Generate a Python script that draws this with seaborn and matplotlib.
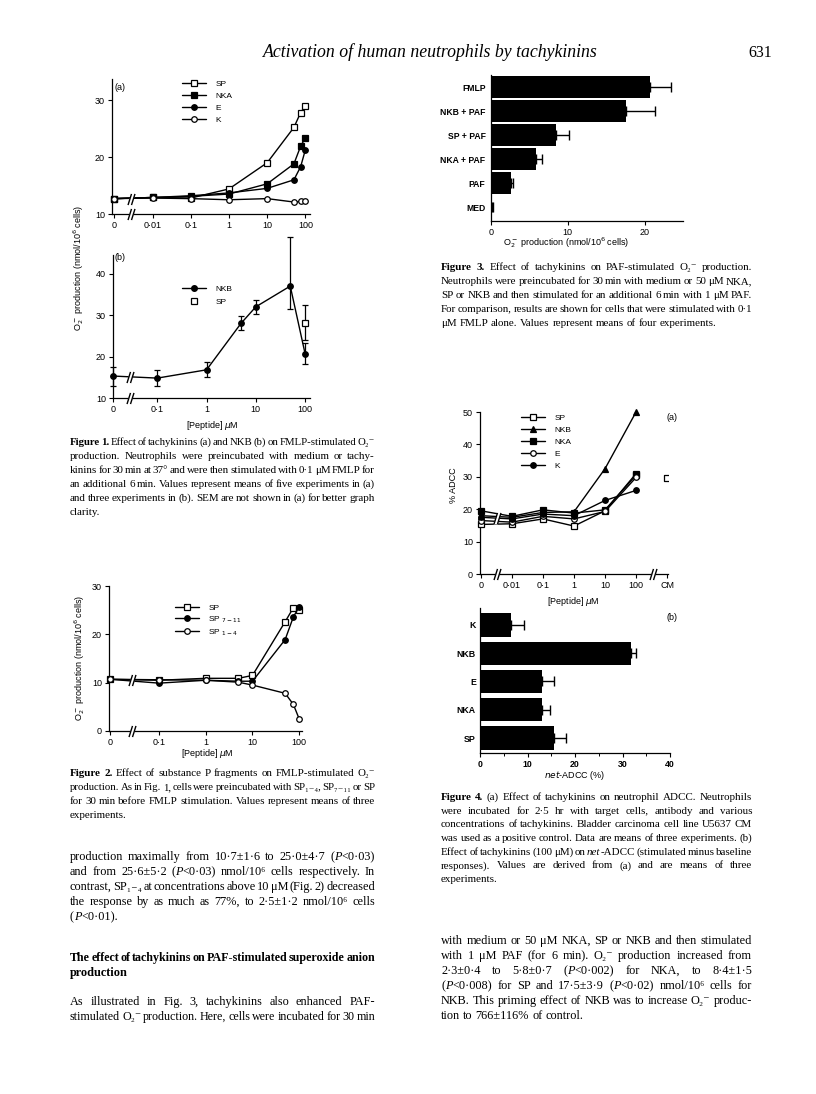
import re
import numpy as np
import matplotlib
matplotlib.use("Agg")
import matplotlib.pyplot as plt
from matplotlib.path import Path
from matplotlib.lines import Line2D
import seaborn as sns

# ---------------- data ----------------
# Figure 1a: O2- production, concentration in uM (0 = medium)
f1a_conc = [0, 0.01, 0.1, 1, 10, 50, 75, 100]
f1a_sp = [12.7, 12.9, 12.8, 14.4, 19.0, 25.2, 27.8, 29.0]
f1a_nka = [12.7, 12.9, 13.1, 13.5, 15.3, 18.8, 21.9, 23.4]
f1a_e = [12.7, 12.9, 13.2, 13.7, 14.5, 16.0, 18.3, 21.3]
f1a_k = [12.7, 12.8, 12.7, 12.5, 12.7, 12.1, 12.2, 12.2]

# Figure 1b: NKB with SEM (asymmetric as drawn), SP point at 100
f1b_conc = [0, 0.1, 1, 5, 10, 50, 100]
f1b_nkb = [15.3, 14.8, 16.8, 28.0, 32.0, 37.0, 20.7]
f1b_lo = [2.3, 2.0, 1.8, 1.6, 1.8, 5.5, 2.5]
f1b_hi = [2.2, 1.9, 1.8, 1.8, 1.6, 11.8, 2.5]
f1b_sp_conc = 100
f1b_sp = 28.0
f1b_sp_lo = 4.0
f1b_sp_hi = 4.5

# Figure 2: SP fragments
f2_conc = [0, 0.1, 1, 5, 10, 50, 75, 100]
f2_sp = [10.7, 10.5, 10.9, 10.9, 11.5, 22.6, 25.5, 25.0]
f2_sp711 = [10.7, 9.9, 10.5, 10.3, 10.3, 18.9, 23.6, 25.7]
f2_sp14 = [10.7, 10.6, 10.5, 10.1, 9.5, 7.8, 5.5, 2.5]

# Figure 3: PAF-stimulated O2- production
f3_cats = ["FMLP", "NKB + PAF", "SP + PAF", "NKA + PAF", "PAF", "MED"]
f3_vals = [20.7, 17.6, 8.5, 5.8, 2.6, 0.1]
f3_err = [2.8, 3.8, 1.6, 0.8, 0.3, 0.2]

# Figure 4a: % ADCC
f4_ticks = ["0", "0·01", "0·1", "1", "10", "100", "CM"]
f4_conc = [0, 0.01, 0.1, 1, 10, 100]
f4_sp = [15.3, 15.5, 17.0, 14.8, 19.5, 31.0]
f4_nkb = [18.0, 17.5, 19.0, 19.2, 32.5, 50.0]
f4_nka = [19.5, 17.8, 19.8, 18.8, 19.8, 30.5]
f4_e = [16.5, 16.0, 17.8, 17.0, 19.3, 29.8]
f4_k = [17.5, 17.0, 18.5, 18.0, 22.7, 25.8]
f4_cm = 29.5

# Figure 4b: net-ADCC
f4b_cats = ["K", "NKB", "E", "NKA", "SP"]
f4b_vals = [6.5, 31.7, 13.0, 13.0, 15.5]
f4b_err = [2.8, 1.1, 2.5, 1.7, 2.5]

# ---------------- setup ----------------
sns.set_theme(style="ticks")
plt.rcParams["font.family"] = ["Liberation Sans", "DejaVu Sans"]
plt.rcParams.update({
    "axes.linewidth": 0.9,
    "xtick.major.size": 3, "ytick.major.size": 3,
    "xtick.major.width": 0.8, "ytick.major.width": 0.8,
    "xtick.minor.size": 2, "xtick.minor.width": 0.7,
    "xtick.labelsize": 6.5, "ytick.labelsize": 6.5,
    "xtick.major.pad": 2, "ytick.major.pad": 2,
    "xtick.color": "black", "ytick.color": "black",
    "axes.edgecolor": "black", "text.color": "black",
    "axes.facecolor": "white", "figure.facecolor": "white",
})
SERIF = ["Liberation Serif", "DejaVu Serif"]

W, H = 816, 1094
fig = plt.figure(figsize=(W / 100, H / 100), dpi=100)
renderer = fig.canvas.get_renderer()


def fx(px):
    return px / W


def fy(py):
    return 1 - py / H


def add_ax(l, t, r, b):
    ax = fig.add_axes([l / W, 1 - b / H, (r - l) / W, (b - t) / H])
    sns.despine(ax=ax)
    return ax


def pos(c, zero):
    return [zero if v == 0 else np.log10(v) for v in c]


brk_lines = Path([(-1, -1.6), (0, 1.6), (0, -1.6), (1, 1.6)],
                 [Path.MOVETO, Path.LINETO, Path.MOVETO, Path.LINETO])
brk_fill = Path([(-1, -1.6), (0, -1.6), (1, 1.6), (0, 1.6), (-1, -1.6)],
                [Path.MOVETO, Path.LINETO, Path.LINETO, Path.LINETO, Path.CLOSEPOLY])


def brk(ax, x, y, on_axis=False):
    tr = ax.get_xaxis_transform() if on_axis else ax.transData
    ax.plot([x], [y], ls="none", marker=brk_fill, ms=8, mfc="white", mec="white",
            mew=0.5, transform=tr, clip_on=False, zorder=6)
    ax.plot([x], [y], ls="none", marker=brk_lines, ms=8, mec="black", mfc="none",
            mew=1.0, transform=tr, clip_on=False, zorder=7)


def series(ax, x, y, marker, filled, label=None):
    sns.lineplot(x=x, y=y, ax=ax, color="black", lw=1, marker=marker, ms=4,
                 mfc="black" if filled else "white", mec="black", mew=0.9,
                 label=label, clip_on=False, zorder=3)


def leg(ax, x, y, spacing, handles=None, labels=None):
    kw = dict(loc="upper left", bbox_to_anchor=(fx(x), fy(y)),
              bbox_transform=fig.transFigure, frameon=False, fontsize=6,
              handlelength=2.9, handletextpad=1.1, labelspacing=spacing,
              borderpad=0, borderaxespad=0)
    if handles is not None:
        ax.legend(handles, labels, **kw)
    else:
        ax.legend(**kw)


# ---------------- Figure 1a ----------------
ax = add_ax(112, 79, 310, 214)
z = -3.0
x = pos(f1a_conc, z)
series(ax, x, f1a_sp, "s", False, "SP")
series(ax, x, f1a_nka, "s", True, "NKA")
series(ax, x, f1a_e, "o", True, "E")
series(ax, x, f1a_k, "o", False, "K")
ax.set_xlim(-3.06, 2.12)
ax.set_ylim(10, 33.7)
ax.set_xticks([-3, -2, -1, 0, 1, 2], ["0", "0·01", "0·1", "1", "10", "100"])
ax.set_yticks([10, 20, 30])
ax.set_xlabel("")
ax.set_ylabel("")
brk(ax, -2.55, 12.7)
brk(ax, -2.55, 0, on_axis=True)
leg(ax, 182, 80, 0.5)
fig.text(fx(120), fy(88), "(a)", fontsize=6.5, ha="center", va="center")

# ---------------- Figure 1b ----------------
ax = add_ax(113, 255, 310, 398)
z = -1.9
x = pos(f1b_conc, z)
series(ax, x, f1b_nkb, "o", True)
ax.errorbar(x, f1b_nkb, yerr=[f1b_lo, f1b_hi], fmt="none", ecolor="black",
            elinewidth=0.9, capsize=2, capthick=0.9, clip_on=False, zorder=2)
ax.errorbar([np.log10(f1b_sp_conc)], [f1b_sp], yerr=[[f1b_sp_lo], [f1b_sp_hi]],
            fmt="s", ms=4, mfc="white", mec="black", mew=0.9, ecolor="black",
            elinewidth=0.9, capsize=2, capthick=0.9, clip_on=False, zorder=4)
ax.set_xlim(-1.9, 2.1)
ax.set_ylim(10, 44.5)
ax.set_xticks([-1.9, -1, 0, 1, 2], ["0", "0·1", "1", "10", "100"])
ax.set_yticks([10, 20, 30, 40])
ax.set_xlabel("")
ax.set_ylabel("")
brk(ax, -1.55, 15.1)
brk(ax, -1.55, 0, on_axis=True)
h1 = [Line2D([], [], color="black", lw=1, marker="o", ms=4, mfc="black", mec="black"),
      Line2D([], [], ls="none", marker="s", ms=4, mfc="white", mec="black", mew=0.9)]
leg(ax, 182, 285, 0.6, h1, ["NKB", "SP"])
fig.text(fx(120), fy(257), "(b)", fontsize=6.5, ha="center", va="center")
fig.text(fx(79), fy(268), "O$_2^-$ production (nmol/10$^6$ cells)", rotation=90,
         fontsize=6.5, ha="center", va="center")
fig.text(fx(212), fy(425), "[Peptide] $\\mu$M", fontsize=6.5, ha="center", va="center")

# ---------------- Figure 2 ----------------
ax = add_ax(109, 586, 302, 731)
z = -2.05
x = pos(f2_conc, z)
series(ax, x, f2_sp, "s", False, "SP")
series(ax, x, f2_sp711, "o", True, "SP $_{7-11}$")
series(ax, x, f2_sp14, "o", False, "SP $_{1-4}$")
ax.set_xlim(-2.07, 2.06)
ax.set_ylim(0, 30)
ax.set_xticks([z, -1, 0, 1, 2], ["0", "0·1", "1", "10", "100"])
ax.set_yticks([0, 10, 20, 30])
ax.set_xlabel("")
ax.set_ylabel("")
brk(ax, -1.57, 10.6)
brk(ax, -1.57, 0, on_axis=True)
leg(ax, 175, 604, 0.3)
fig.text(fx(80), fy(658), "O$_2^-$ production (nmol/10$^6$ cells)", rotation=90,
         fontsize=6.5, ha="center", va="center")
fig.text(fx(207), fy(753), "[Peptide] $\\mu$M", fontsize=6.5, ha="center", va="center")

# ---------------- Figure 3 ----------------
ax = add_ax(491, 75, 683, 221)
sns.barplot(x=f3_vals, y=f3_cats, order=f3_cats, orient="h", color="black",
            saturation=1, width=0.9, linewidth=0, ax=ax)
ax.errorbar(f3_vals, range(len(f3_cats)), xerr=[np.zeros(len(f3_vals)), f3_err],
            fmt="none", ecolor="black", elinewidth=1, capsize=3.5, capthick=1)
ax.set_xlim(0, 25)
ax.set_ylim(5.58, -0.5)
ax.set_xticks([0, 10, 20])
ax.tick_params(axis="y", length=0, pad=4)
for t in ax.get_yticklabels():
    t.set_fontweight("bold")
    t.set_fontsize(6.2)
ax.set_xlabel("")
ax.set_ylabel("")
fig.text(fx(566), fy(243), "O$_2^-$ production (nmol/10$^6$ cells)", fontsize=6.5,
         ha="center", va="center")

# ---------------- Figure 4a ----------------
ax = add_ax(480, 412, 668, 574)
x = pos(f4_conc, -3)
series(ax, x, f4_sp, "s", False, "SP")
series(ax, x, f4_nkb, "^", True, "NKB")
series(ax, x, f4_nka, "s", True, "NKA")
series(ax, x, f4_e, "o", False, "E")
series(ax, x, f4_k, "o", True, "K")
sns.scatterplot(x=[3], y=[f4_cm], marker="s", s=14, color="white",
                edgecolor="black", linewidth=0.9, ax=ax, zorder=4)
ax.set_xlim(-3.03, 3.03)
ax.set_ylim(0, 50)
ax.set_xticks(range(-3, 4), f4_ticks)
ax.set_yticks([0, 10, 20, 30, 40, 50])
ax.set_xlabel("")
ax.set_ylabel("")
brk(ax, -2.48, 17.2)
brk(ax, -2.48, 0, on_axis=True)
brk(ax, 2.55, 0, on_axis=True)
leg(ax, 521, 414, 0.5)
fig.text(fx(672), fy(417), "(a)", fontsize=6.5, ha="center", va="center")
fig.text(fx(453), fy(485), "% ADCC", rotation=90, fontsize=6.5, ha="center", va="center")
fig.text(fx(573), fy(602), "[Peptide] $\\mu$M", fontsize=6.5, ha="center", va="center")

# ---------------- Figure 4b ----------------
ax = add_ax(480, 608, 670, 753)
sns.barplot(x=f4b_vals, y=f4b_cats, order=f4b_cats, orient="h", color="black",
            saturation=1, width=0.82, linewidth=0, ax=ax)
ax.errorbar(f4b_vals, range(len(f4b_cats)), xerr=[np.zeros(len(f4b_vals)), f4b_err],
            fmt="none", ecolor="black", elinewidth=1, capsize=3.5, capthick=1)
ax.set_xlim(0, 40)
ax.set_ylim(4.53, -0.6)
ax.set_xticks([0, 10, 20, 30, 40])
ax.set_xticks([5, 15, 25, 35], minor=True)
ax.tick_params(axis="y", length=0, pad=3)
for t in ax.get_yticklabels() + ax.get_xticklabels():
    t.set_fontweight("bold")
    t.set_fontsize(6.3)
ax.set_xlabel("")
ax.set_ylabel("")
fig.text(fx(672), fy(618), "(b)", fontsize=6.5, ha="center", va="center")
fig.text(fx(575), fy(775), "$\\it{net}$-ADCC (%)", fontsize=6.5, ha="center", va="center")


# ---------------- page text ----------------
def text_line(y, x0, x1, line, size, justify=True):
    words = [[]]
    for p in re.split(r"(\*\*.+?\*\*|\*.+?\*)", line):
        if not p:
            continue
        if p.startswith("**"):
            txt, kw = p[2:-2], {"fontweight": "bold"}
        elif p.startswith("*"):
            txt, kw = p[1:-1], {"fontstyle": "italic"}
        else:
            txt, kw = p, {}
        for i, part in enumerate(txt.split(" ")):
            if i > 0:
                words.append([])
            if part:
                words[-1].append((part, kw))
    words = [w for w in words if w]
    arts, widths = [], []
    for w in words:
        row, tot = [], 0
        for part, kw in w:
            t = fig.text(0, 0, part, fontsize=size, family=SERIF, ha="left",
                         va="baseline", **kw)
            wd = t.get_window_extent(renderer).width
            row.append((t, wd))
            tot += wd
        arts.append(row)
        widths.append(tot)
    space = size * 100 / 72 * 0.25
    n = len(words)
    total = sum(widths)
    if justify and n > 1:
        gap = (x1 - x0 - total) / (n - 1)
        if gap < space * 0.45:
            for row in arts:
                for t, _ in row:
                    t.remove()
            return text_line(y, x0, x1, line, size * 0.98, justify)
    else:
        gap = space
    x = x0
    for row, tot in zip(arts, widths):
        xx = x
        for t, wd in row:
            t.set_position((fx(xx), fy(y)))
            xx += wd
        x += tot + gap


def block(lines, x0, x1, y0, step, size, last_free=True):
    for i, ln in enumerate(lines):
        just = not (last_free and i == len(lines) - 1)
        text_line(y0 + i * step, x0, x1, ln, size, just)


fig.text(fx(430), fy(57), "Activation of human neutrophils by tachykinins",
         family=SERIF, fontstyle="italic", fontsize=12.8, ha="center", va="baseline")
fig.text(fx(772), fy(57), "631", family=SERIF, fontsize=11.5, ha="right", va="baseline")

CAP = 7.9
BODY = 8.8

cap1 = [
    "**Figure 1.** Effect of tachykinins (a) and NKB (b) on FMLP-stimulated O₂⁻",
    "production. Neutrophils were preincubated with medium or tachy-",
    "kinins for 30 min at 37° and were then stimulated with 0·1 μM FMLP for",
    "an additional 6 min. Values represent means of five experiments in (a)",
    "and three experiments in (b). SEM are not shown in (a) for better graph",
    "clarity.",
]
block(cap1, 70, 375, 445, 14, CAP)

cap2 = [
    "**Figure 2.** Effect of substance P fragments on FMLP-stimulated O₂⁻",
    "production. As in Fig. 1, cells were preincubated with SP₁₋₄, SP₇₋₁₁ or SP",
    "for 30 min before FMLP stimulation. Values represent means of three",
    "experiments.",
]
block(cap2, 70, 375, 776, 14, CAP)

body1 = [
    "production maximally from 10·7±1·6 to 25·0±4·7 (*P*<0·03)",
    "and from 25·6±5·2 (*P*<0·03) nmol/10⁶ cells respectively. In",
    "contrast, SP₁₋₄ at concentrations above 10 μM (Fig. 2) decreased",
    "the response by as much as 77%, to 2·5±1·2 nmol/10⁶ cells",
    "(*P*<0·01).",
]
block(body1, 70, 375, 860, 15, BODY)
block(["**The effect of tachykinins on PAF-stimulated superoxide anion**",
       "**production**"], 70, 375, 961, 15, BODY)
block(["As illustrated in Fig. 3, tachykinins also enhanced PAF-",
       "stimulated O₂⁻ production. Here, cells were incubated for 30 min"],
      70, 375, 1005, 15, BODY, last_free=False)

cap3 = [
    "**Figure 3.** Effect of tachykinins on PAF-stimulated O₂⁻ production.",
    "Neutrophils were preincubated for 30 min with medium or 50 μM NKA,",
    "SP or NKB and then stimulated for an additional 6 min with 1 μM PAF.",
    "For comparison, results are shown for cells that were stimulated with 0·1",
    "μM FMLP alone. Values represent means of four experiments.",
]
block(cap3, 441, 752, 270, 14, CAP)

cap4 = [
    "**Figure 4.** (a) Effect of tachykinins on neutrophil ADCC. Neutrophils",
    "were incubated for 2·5 hr with target cells, antibody and various",
    "concentrations of tachykinins. Bladder carcinoma cell line U5637 CM",
    "was used as a positive control. Data are means of three experiments. (b)",
    "Effect of tachykinins (100 μM) on *net*-ADCC (stimulated minus baseline",
    "responses). Values are derived from (a) and are means of three",
    "experiments.",
]
block(cap4, 441, 752, 800, 13.7, CAP)

body2 = [
    "with medium or 50 μM NKA, SP or NKB and then stimulated",
    "with 1 μM PAF (for 6 min). O₂⁻ production increased from",
    "2·3±0·4 to 5·8±0·7 (*P*<0·002) for NKA, to 8·4±1·5",
    "(*P*<0·008) for SP and 17·5±3·9 (*P*<0·02) nmol/10⁶ cells for",
    "NKB. This priming effect of NKB was to increase O₂⁻ produc-",
    "tion to 766±116% of control.",
]
block(body2, 441, 752, 944, 15, BODY)

fig.savefig("out.png", dpi=100)
